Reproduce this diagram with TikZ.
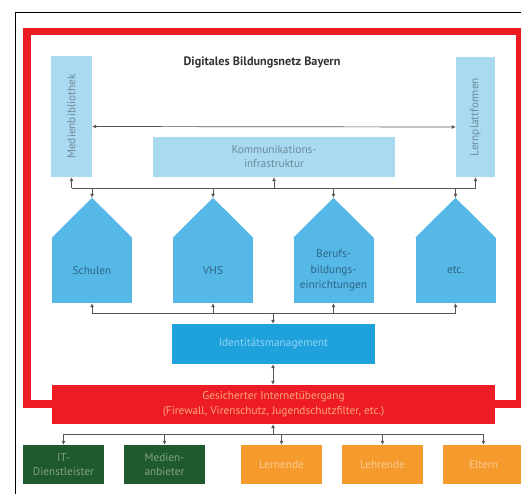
\documentclass[tikz,border=0pt]{standalone}
\usepackage{fontspec}
\setmainfont{PT Sans}
\usetikzlibrary{arrows.meta,calc}
\definecolor{redc}{HTML}{ED1C24}
\definecolor{lightb}{HTML}{A9DAF1}
\definecolor{houseb}{HTML}{55B8E6}
\definecolor{identb}{HTML}{1FA2DC}
\definecolor{greenc}{HTML}{1F5A2C}
\definecolor{orangec}{HTML}{F59B2E}
\definecolor{linec}{HTML}{555555}
\definecolor{lbtext}{HTML}{6E8A99}
\definecolor{htext}{HTML}{2F6688}
\definecolor{gtext}{HTML}{7FA47F}
\definecolor{otext}{HTML}{F9CB90}
\definecolor{rtext}{HTML}{F8A67C}
\definecolor{itext}{HTML}{8FD3F2}
\tikzset{
  lbox/.style={fill=lightb,draw=none,inner sep=0pt,align=center,text=lbtext,font=\fontsize{11.3}{14}\selectfont},
  rtxt/.style={rotate=90,text=lbtext,font=\fontsize{11.3}{14}\selectfont},
  hbody/.style={fill=houseb,draw=none,minimum width=80pt,minimum height=65pt,inner sep=0pt,align=center,text=htext,font=\fontsize{11.3}{15.5}\selectfont},
  conn/.style={draw=linec,line width=0.7pt},
  arr/.style={conn,-{Latex[length=4pt,width=4pt]}},
  darr/.style={conn,{Latex[length=4pt,width=4pt]}-{Latex[length=4pt,width=4pt]}},
  gbox/.style={fill=greenc,minimum width=81pt,minimum height=39pt,inner sep=0pt,align=center,text=gtext,font=\fontsize{11.3}{14.5}\selectfont},
  obox/.style={fill=orangec,minimum width=81pt,minimum height=39pt,inner sep=0pt,align=center,text=otext,font=\fontsize{11.3}{14.5}\selectfont},
}
\begin{document}
\begin{tikzpicture}[x=1pt,y=-1pt]
\useasboundingbox (0,0) rectangle (521,493);
\clip (0,0) rectangle (521,493);
\fill[white] (0,0) rectangle (521,493);
% black frame
\draw[black,line width=0.9pt] (15,500) -- (15,12) -- (530,12);
% red frame
\draw[redc,line width=7.5pt] (27,31.5) rectangle (520,404);
% title
\node[font=\bfseries\fontsize{12.2}{14}\selectfont,text=black!80] (title) at (262,62) {Digitales Bildungsnetz Bayern};
% top boxes
\node[lbox,minimum width=41pt,minimum height=121pt] (medien) at (71.5,116.5) {};
\node[rtxt] (medienT) at (medien.center) {Medienbibliothek};
\node[lbox,minimum width=39pt,minimum height=120pt] (lern) at (475.5,117) {};
\node[rtxt] (lernT) at (lern.center) {Lernplattformen};
\node[lbox,minimum width=242pt,minimum height=40pt] (komm) at (274,157) {Kommunikations-\\infrastruktur};
\draw[darr] ([yshift=-10pt]medien.east) -- ([yshift=-10pt]lern.west);
% houses
\foreach \n/\x/\t in {h1/92/Schulen,h2/213/VHS,h3/333.5/{Berufs-\\bildungs-\\einrichtungen},h4/455.5/etc.}{
  \node[hbody] (\n) at (\x,270.5) {\t};
  \fill[houseb] (\n.north west) -- ([yshift=40pt]\n.north) coordinate (\n r) -- (\n.north east) -- cycle;
}
% bus 1
\coordinate (bus1) at (273,188);
\draw[conn] (medien.south |- bus1) -- (lern.south |- bus1);
\draw[arr] (medien.south |- bus1) -- (medien.south);
\draw[arr] (komm.south |- bus1) -- (komm.south);
\draw[arr] (lern.south |- bus1) -- (lern.south);
\foreach \n in {h1,h2,h3,h4}{\draw[arr] (\n r |- bus1) -- (\n r);}
% identity
\node[fill=identb,minimum width=203pt,minimum height=40pt,inner sep=0pt,text=itext,font=\fontsize{11.3}{14}\selectfont] (ident) at (273.5,344) {Identitätsmanagement};
\coordinate (bus2) at (273,313);
\draw[conn] (h1.south |- bus2) -- (h4.south |- bus2);
\foreach \n in {h1,h2,h3,h4}{\draw[arr] (\n.south |- bus2) -- (\n.south);}
\draw[arr] (bus2) -- (bus2 |- ident.north);
% gateway
\node[fill=redc,minimum width=443pt,minimum height=39pt,inner sep=0pt,align=center,text=rtext,font=\fontsize{11.3}{15}\selectfont] (gate) at (273.5,404.5) {Gesicherter Internetübergang\\(Firewall, Virenschutz, Jugendschutzfilter, etc.)};
\draw[darr] (ident.south -| bus2) -- (gate.north -| bus2);
% bottom boxes
\node[gbox] (b1) at (63.5,464.5) {IT-\\Dienstleister};
\node[gbox] (b2) at (164.5,464.5) {Medien-\\anbieter};
\node[obox] (b3) at (281.5,464.5) {Lernende};
\node[obox] (b4) at (382.5,464.5) {Lehrende};
\node[obox] (b5) at (483.5,464.5) {Eltern};
\coordinate (bus3) at (273,434);
\draw[conn] (b1.north |- bus3) -- (b5.north |- bus3);
\draw[arr] (bus3) -- (bus3 |- gate.south);
\foreach \n in {b1,b2,b3,b4,b5}{\draw[arr] (\n.north |- bus3) -- (\n.north);}
\end{tikzpicture}
\end{document}
